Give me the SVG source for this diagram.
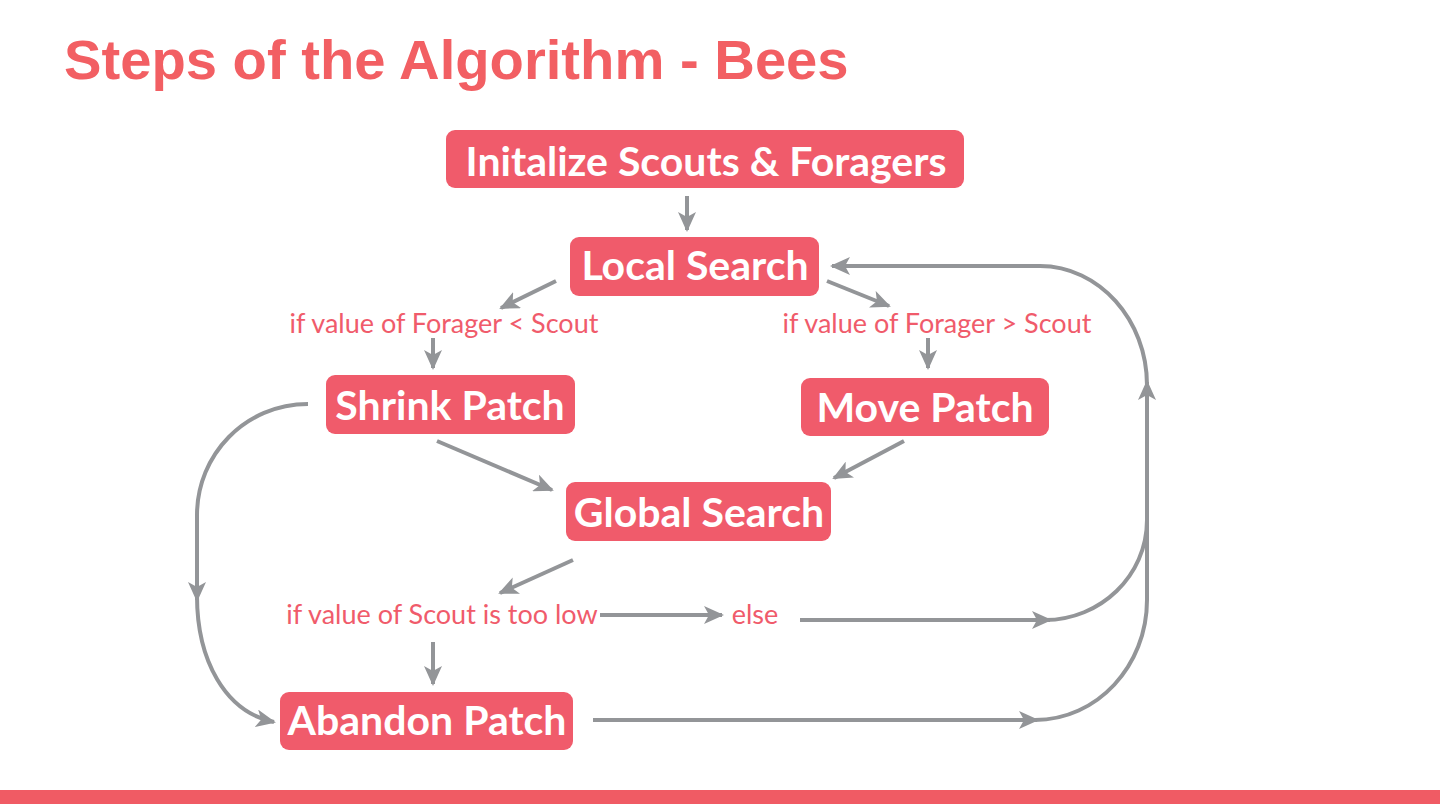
<svg xmlns="http://www.w3.org/2000/svg" width="1440" height="804" viewBox="0 0 1440 804">
  <style>
    .node rect { fill: #f05b6b; }
    .node text { font-family: Lato, "Open Sans", sans-serif; font-weight: 700; font-size: 41px; fill: #ffffff; text-anchor: middle; }
    .lbl { font-family: Lato, "Open Sans", sans-serif; font-size: 27px; fill: #f05b6b; text-anchor: middle; }
    .edge { fill: none; stroke: #939598; stroke-width: 4; }
    .title { font-family: "Liberation Sans", Arial, sans-serif; font-weight: 700; font-size: 56.2px; fill: #f25f63; }
  </style>
  <defs>
    <marker id="arrow" markerUnits="userSpaceOnUse" markerWidth="20" markerHeight="18" viewBox="0 0 20 18" refX="18" refY="9" orient="auto">
      <path d="M0,0 L20,9 L0,18 L5,9 z" fill="#939598"/>
    </marker>
  </defs>

  <rect width="1440" height="804" fill="#ffffff"/>
  <text class="title" x="64" y="79">Steps of the Algorithm - Bees</text>

  <!-- connectors -->
  <g id="connectors">
    <path class="edge" d="M687,196 L687,230" marker-end="url(#arrow)"/>
    <path class="edge" d="M556,281 L501,308" marker-end="url(#arrow)"/>
    <path class="edge" d="M827,281 L889,306" marker-end="url(#arrow)"/>
    <path class="edge" d="M433,338 L433,368" marker-end="url(#arrow)"/>
    <path class="edge" d="M928,338 L928,368" marker-end="url(#arrow)"/>
    <path class="edge" d="M437,441 L552,490" marker-end="url(#arrow)"/>
    <path class="edge" d="M904,441 L834,478" marker-end="url(#arrow)"/>
    <path class="edge" d="M573,560 L500,593" marker-end="url(#arrow)"/>
    <path class="edge" d="M433,642 L433,684" marker-end="url(#arrow)"/>
    <path class="edge" d="M600,615 L722,615" marker-end="url(#arrow)"/>
    <path class="edge" d="M800,620 L1050,620" marker-end="url(#arrow)"/>
    <path class="edge" d="M593,720 L1037,720" marker-end="url(#arrow)"/>
    <!-- right return loop -->
    <path class="edge" d="M1045,620 C1100,620 1147,576 1147,520"/>
    <path class="edge" d="M1035,720 C1097,720 1147,666 1147,600 L1147,382" marker-end="url(#arrow)"/>
    <path class="edge" d="M1147,385 C1147,320 1099,266 1040,266 L832,266" marker-end="url(#arrow)"/>
    <!-- left loop -->
    <path class="edge" d="M308,404 C245,404 197,455 197,515 L197,600" marker-end="url(#arrow)"/>
    <path class="edge" d="M197,596 C197,660 225,712 274,722" marker-end="url(#arrow)"/>
  </g>

  <g id="init" class="node">
    <rect x="446" y="130" width="518" height="58" rx="9"/>
    <text x="706" y="176">Initalize Scouts &amp; Foragers</text>
  </g>
  <g id="local" class="node">
    <rect x="570" y="237" width="249" height="59" rx="9"/>
    <text x="695" y="280">Local Search</text>
  </g>
  <g id="shrink" class="node">
    <rect x="326" y="375" width="249" height="59" rx="9"/>
    <text x="450" y="420">Shrink Patch</text>
  </g>
  <g id="move" class="node">
    <rect x="801" y="378" width="248" height="58" rx="9"/>
    <text x="925" y="422">Move Patch</text>
  </g>
  <g id="global" class="node">
    <rect x="566" y="482" width="265" height="59" rx="9"/>
    <text x="699" y="527">Global Search</text>
  </g>
  <g id="abandon" class="node">
    <rect x="280" y="692" width="293" height="58" rx="9"/>
    <text x="427" y="735">Abandon Patch</text>
  </g>

  <g id="labels">
    <text class="lbl" x="444" y="333">if value of Forager &lt; Scout</text>
    <text class="lbl" x="937" y="333">if value of Forager &gt; Scout</text>
    <text class="lbl" x="442" y="624">if value of Scout is too low</text>
    <text class="lbl" x="755" y="624">else</text>
  </g>

  <rect x="0" y="790" width="1440" height="14" fill="#f05b64"/>
</svg>
